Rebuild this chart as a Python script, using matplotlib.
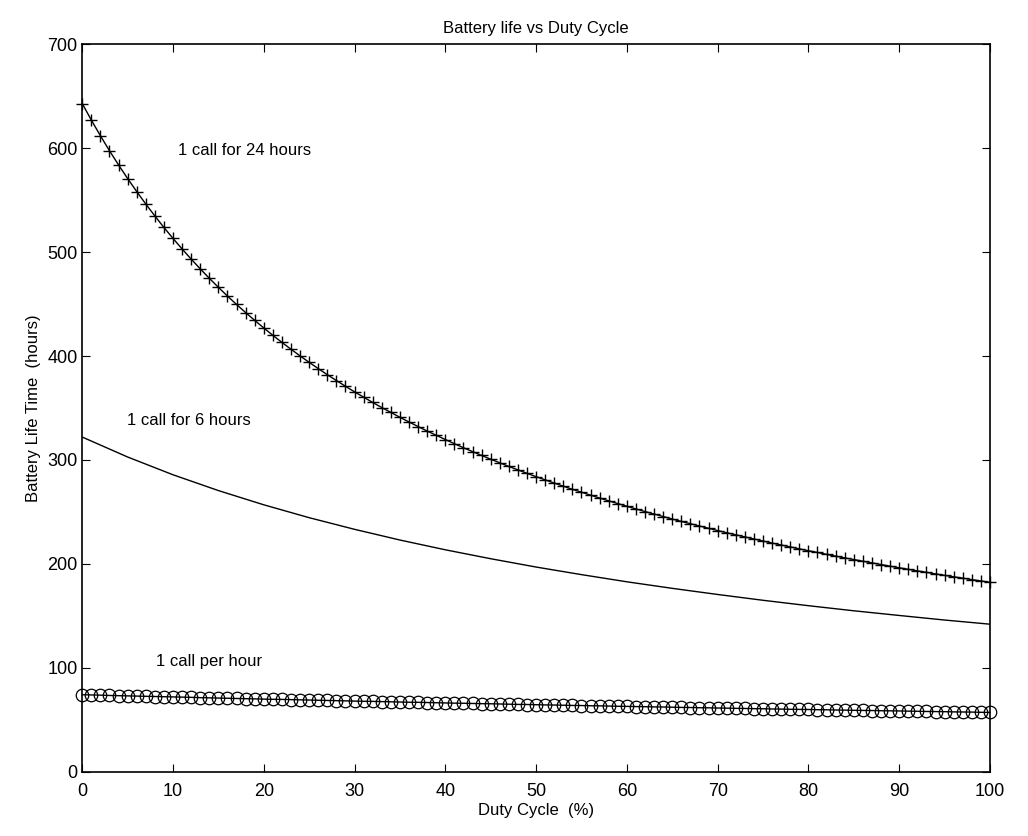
import matplotlib.pyplot as plt
import numpy as np

plt.rcParams['font.family'] = ['Liberation Sans', 'DejaVu Sans']

# duty cycle (%) 0..100, one sample per percent
duty = np.arange(0, 101)

# 1 call for 24 hours (hours)
life_24h = [643.0, 627.1, 612.0, 597.6, 583.9, 570.8, 558.3, 546.3, 534.8, 523.7,
            513.2, 503.0, 493.3, 483.9, 474.8, 466.1, 457.7, 449.6, 441.8, 434.3,
            427.0, 419.9, 413.1, 406.5, 400.1, 393.9, 387.9, 382.0, 376.4, 370.9,
            365.5, 360.4, 355.3, 350.4, 345.7, 341.0, 336.5, 332.1, 327.8, 323.7,
            319.6, 315.6, 311.7, 308.0, 304.3, 300.7, 297.2, 293.7, 290.4, 287.1,
            283.9, 280.8, 277.7, 274.7, 271.7, 268.9, 266.1, 263.3, 260.6, 258.0,
            255.4, 252.8, 250.3, 247.9, 245.5, 243.1, 240.8, 238.6, 236.4, 234.2,
            232.0, 229.9, 227.9, 225.9, 223.9, 221.9, 220.0, 218.1, 216.3, 214.4,
            212.6, 210.9, 209.1, 207.4, 205.7, 204.1, 202.5, 200.9, 199.3, 197.7,
            196.2, 194.7, 193.2, 191.8, 190.3, 188.9, 187.5, 186.2, 184.8, 183.5,
            182.2]

# 1 call for 6 hours, read every 5 %
duty_6h = np.arange(0, 101, 5)
life_6h = [322.0, 302.8, 285.7, 270.5, 256.8, 244.4, 233.2, 222.9, 213.5, 204.9,
           196.9, 189.6, 182.7, 176.4, 170.5, 164.9, 159.7, 154.8, 150.3, 145.9,
           141.9]

# 1 call per hour
life_1h = [74.0, 73.8, 73.6, 73.3, 73.1, 72.9, 72.7, 72.5, 72.3, 72.1,
           71.9, 71.7, 71.5, 71.2, 71.0, 70.8, 70.6, 70.4, 70.2, 70.0,
           69.8, 69.6, 69.5, 69.3, 69.1, 68.9, 68.7, 68.5, 68.3, 68.1,
           67.9, 67.7, 67.6, 67.4, 67.2, 67.0, 66.8, 66.7, 66.5, 66.3,
           66.1, 65.9, 65.8, 65.6, 65.4, 65.3, 65.1, 64.9, 64.7, 64.6,
           64.4, 64.2, 64.1, 63.9, 63.7, 63.6, 63.4, 63.3, 63.1, 62.9,
           62.8, 62.6, 62.5, 62.3, 62.2, 62.0, 61.8, 61.7, 61.5, 61.4,
           61.2, 61.1, 60.9, 60.8, 60.6, 60.5, 60.3, 60.2, 60.0, 59.9,
           59.8, 59.6, 59.5, 59.3, 59.2, 59.0, 58.9, 58.8, 58.6, 58.5,
           58.4, 58.2, 58.1, 57.9, 57.8, 57.7, 57.5, 57.4, 57.3, 57.1,
           57.0]

fig = plt.figure(figsize=(10.28, 8.36), dpi=100)
ax = fig.add_axes([0.080, 0.077, 0.883, 0.870])

ax.plot(duty, life_24h, 'k-+', linewidth=1.0, markersize=8, markeredgewidth=1.0,
        clip_on=False)
ax.plot(duty_6h, life_6h, 'k-', linewidth=1.0)
ax.plot(duty, life_1h, 'k-o', linewidth=1.0, markersize=9,
        markerfacecolor='none', markeredgewidth=0.9, clip_on=False)

ax.text(10.6, 598, '1 call for 24 hours', fontsize=12, va='center')
ax.text(4.9, 338, '1 call for 6 hours', fontsize=12, va='center')
ax.text(8.1, 106, '1 call per hour', fontsize=12, va='center')

ax.set_xlim(0, 100)
ax.set_ylim(0, 700)
ax.set_xticks(np.arange(0, 101, 10))
ax.set_yticks(np.arange(0, 701, 100))
ax.tick_params(direction='in', top=True, right=True, length=6, labelsize=13)
ax.tick_params(axis='x', pad=8)
for s in ax.spines.values():
    s.set_linewidth(1.2)

ax.set_title('Battery life vs Duty Cycle', fontsize=12, pad=8)
ax.set_xlabel('Duty Cycle  (%)', fontsize=12, labelpad=2)
ax.set_ylabel('Battery Life Time  (hours)', fontsize=12, labelpad=4)

fig.savefig('out.png', dpi=100)
